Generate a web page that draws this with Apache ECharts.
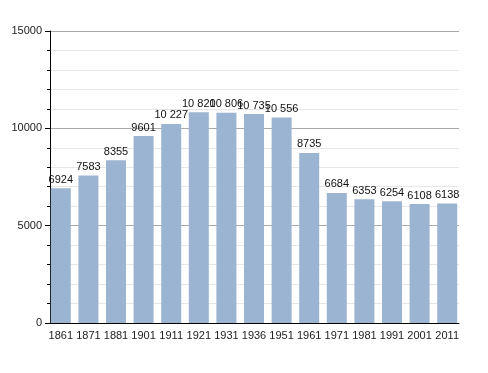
<!DOCTYPE html>
<html><head><meta charset="utf-8">
<script src="https://cdn.jsdelivr.net/npm/echarts@6/dist/echarts.min.js"></script>
<style>html,body{margin:0;padding:0;background:#fff}#c{width:488px;height:373px}</style>
</head><body><div id="c"></div>
<script>
var years = ['1861','1871','1881','1901','1911','1921','1931','1936','1951','1961','1971','1981','1991','2001','2011'];
var population = [6924,7583,8355,9601,10227,10820,10806,10735,10556,8735,6684,6353,6254,6108,6138];
var yTicks = [0,5000,10000,15000];

function fmt(v){
  var s = String(v);
  if (v >= 10000) return s.slice(0, s.length-3) + ' ' + s.slice(-3);
  return s;
}
var font = 'Liberation Sans, Arial';
var chart = echarts.init(document.getElementById('c'));
chart.setOption({
  animation:false,
  grid:[
    {left:50,right:29,top:31,bottom:50,containLabel:false},
    {left:47,right:27,top:31,bottom:50,containLabel:false}
  ],
  xAxis:[
    {gridIndex:0,type:'category',data:years,
      axisLine:{lineStyle:{color:'#000',width:1}},
      axisTick:{show:false},axisLabel:{show:false},splitLine:{show:false}},
    {gridIndex:1,type:'category',data:years,
      axisLine:{show:false},axisTick:{show:false},splitLine:{show:false},
      axisLabel:{color:'#222',fontSize:11,fontFamily:font,margin:7,interval:0}}
  ],
  yAxis:[
    {gridIndex:0,type:'value',min:yTicks[0],max:yTicks[yTicks.length-1],interval:5000,
      axisLine:{show:true,lineStyle:{color:'#000',width:1}},
      axisTick:{show:true,length:5,lineStyle:{color:'#000'}},
      minorTick:{show:true,splitNumber:5,length:3,lineStyle:{color:'#000'}},
      splitLine:{show:true,lineStyle:{color:'#aaa',width:1}},
      minorSplitLine:{show:true,lineStyle:{color:'#e6e6e6',width:1}},
      axisLabel:{color:'#222',fontSize:11,fontFamily:font,margin:8,formatter:function(v){return String(v);}}},
    {gridIndex:1,type:'value',min:yTicks[0],max:yTicks[yTicks.length-1],show:false,splitLine:{show:false}}
  ],
  series:[{type:'bar',xAxisIndex:1,yAxisIndex:1,data:population,barWidth:20,
    itemStyle:{color:'#9bb4d1'},
    label:{show:true,position:'top',distance:3,color:'#111',fontSize:11,fontFamily:font,
      formatter:function(p){return fmt(p.value);}}}]
});
</script></body></html>
